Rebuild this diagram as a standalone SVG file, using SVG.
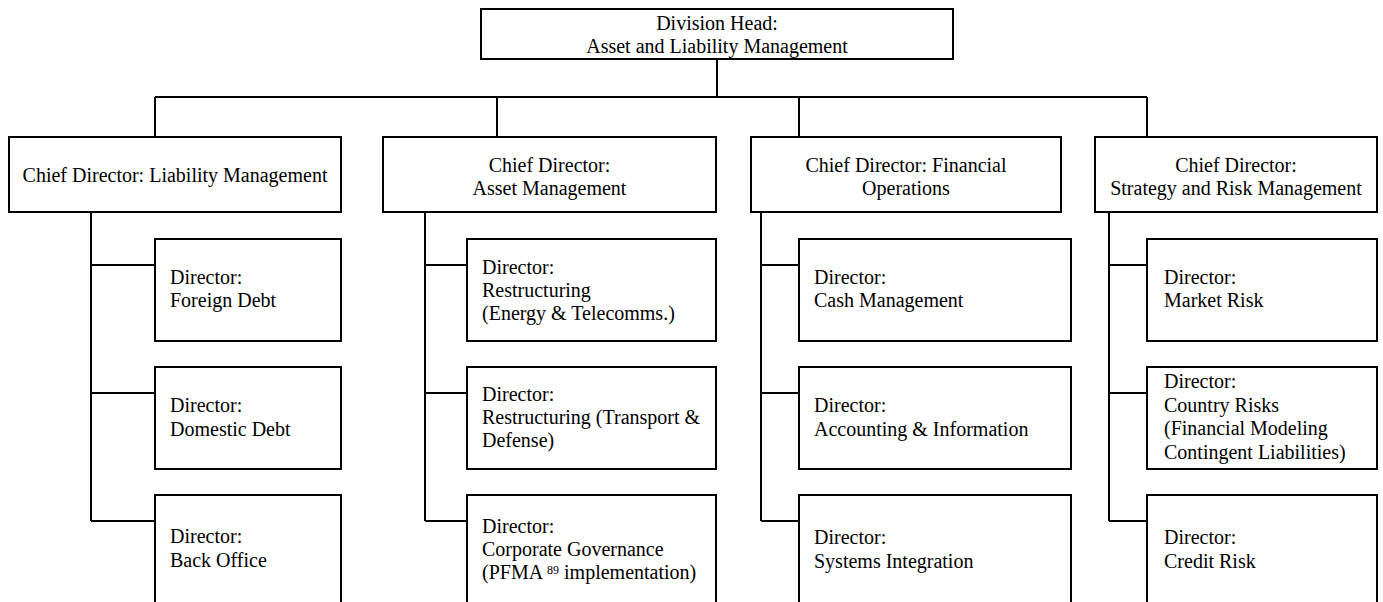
<svg xmlns="http://www.w3.org/2000/svg" width="1383" height="602" viewBox="0 0 1383 602">
<style>
.box{fill:#fff;stroke:#000;stroke-width:2}
.ln{fill:none;stroke:#000;stroke-width:2}
text{font-family:"Liberation Serif","Times New Roman",serif;font-size:20px;fill:#000}
.c{text-anchor:middle}
</style>
<rect width="1383" height="602" fill="#fff"/>
<g id="connectors">
<path class="ln" d="M717 59V97M155 97H1147M155 97V137M497 97V137M799 97V137M1147 97V137"/>
<path class="ln" d="M91 212V521M91 265H155M91 393H155M91 521H155"/>
<path class="ln" d="M425 212V521M425 265H467M425 393H467M425 521H467"/>
<path class="ln" d="M761 212V521M761 265H799M761 393H799M761 521H799"/>
<path class="ln" d="M1109 212V521M1109 265H1147M1109 393H1147M1109 521H1147"/>
</g>
<g id="head">
<rect class="box" x="481" y="9" width="472" height="50"/>
<text class="c" x="717" y="30">Division Head:</text>
<text class="c" x="717" y="53">Asset and Liability Management</text>
</g>
<g id="cd-liability">
<rect class="box" x="9" y="137" width="332" height="75"/>
<text class="c" x="175" y="182">Chief Director: Liability Management</text>
</g>
<g id="cd-asset">
<rect class="box" x="383" y="137" width="333" height="75"/>
<text class="c" x="549.5" y="172">Chief Director:</text>
<text class="c" x="549.5" y="195">Asset Management</text>
</g>
<g id="cd-finops">
<rect class="box" x="751" y="137" width="310" height="75"/>
<text class="c" x="906" y="172">Chief Director: Financial</text>
<text class="c" x="906" y="195">Operations</text>
</g>
<g id="cd-strategy">
<rect class="box" x="1095" y="137" width="282" height="75"/>
<text class="c" x="1236" y="172">Chief Director:</text>
<text class="c" x="1236" y="195">Strategy and Risk Management</text>
</g>
<g id="d-foreign">
<rect class="box" x="155" y="239" width="186" height="102"/>
<text x="170" y="284">Director:</text>
<text x="170" y="307">Foreign Debt</text>
</g>
<g id="d-domestic">
<rect class="box" x="155" y="367" width="186" height="102"/>
<text x="170" y="412">Director:</text>
<text x="170" y="436">Domestic Debt</text>
</g>
<g id="d-backoffice">
<rect class="box" x="155" y="495" width="186" height="120"/>
<text x="170" y="543">Director:</text>
<text x="170" y="567">Back Office</text>
</g>
<g id="d-energy">
<rect class="box" x="467" y="239" width="249" height="102"/>
<text x="482" y="274">Director:</text>
<text x="482" y="297">Restructuring</text>
<text x="482" y="320">(Energy &amp; Telecomms.)</text>
</g>
<g id="d-transport">
<rect class="box" x="467" y="367" width="249" height="102"/>
<text x="482" y="401">Director:</text>
<text x="482" y="424">Restructuring (Transport &amp;</text>
<text x="482" y="447">Defense)</text>
</g>
<g id="d-governance">
<rect class="box" x="467" y="495" width="249" height="120"/>
<text x="482" y="533">Director:</text>
<text x="482" y="556">Corporate Governance</text>
<text x="482" y="579">(PFMA <tspan font-size="12" dy="-5">89</tspan><tspan dy="5"> implementation)</tspan></text>
</g>
<g id="d-cash">
<rect class="box" x="799" y="239" width="272" height="102"/>
<text x="814" y="284">Director:</text>
<text x="814" y="307">Cash Management</text>
</g>
<g id="d-accounting">
<rect class="box" x="799" y="367" width="272" height="102"/>
<text x="814" y="412">Director:</text>
<text x="814" y="436">Accounting &amp; Information</text>
</g>
<g id="d-systems">
<rect class="box" x="799" y="495" width="272" height="120"/>
<text x="814" y="544">Director:</text>
<text x="814" y="568">Systems Integration</text>
</g>
<g id="d-market">
<rect class="box" x="1147" y="239" width="230" height="102"/>
<text x="1164" y="284">Director:</text>
<text x="1164" y="307">Market Risk</text>
</g>
<g id="d-country">
<rect class="box" x="1147" y="367" width="230" height="102"/>
<text x="1164" y="388">Director:</text>
<text x="1164" y="412">Country Risks</text>
<text x="1164" y="435">(Financial Modeling</text>
<text x="1164" y="459">Contingent Liabilities)</text>
</g>
<g id="d-credit">
<rect class="box" x="1147" y="495" width="230" height="120"/>
<text x="1164" y="544">Director:</text>
<text x="1164" y="568">Credit Risk</text>
</g>
</svg>
